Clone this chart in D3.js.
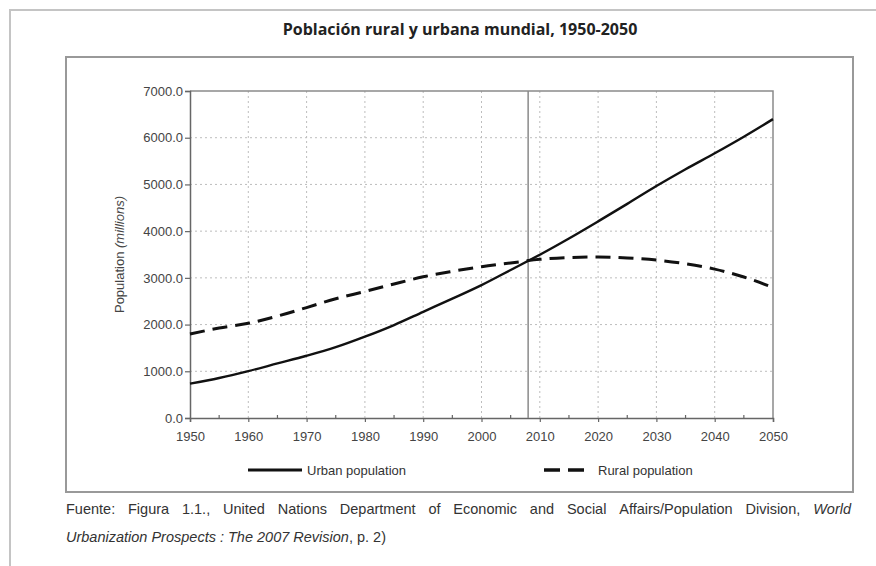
<!DOCTYPE html>
<html>
<head>
<meta charset="utf-8">
<script src="https://cdn.jsdelivr.net/npm/d3@7"></script>
<style>
  body { margin: 0; background: #fff; }
  svg { display: block; }
</style>
</head>
<body>
<div id="chart"></div>
<script>
// values (millions)
const years = [1950, 1955, 1960, 1965, 1970, 1975, 1980, 1985, 1990, 1995, 2000,
               2005, 2010, 2015, 2020, 2025, 2030, 2035, 2040, 2045, 2050];
const urban = [737, 857, 1004, 1168, 1332, 1516, 1741, 1990, 2273, 2555, 2845,
               3169, 3495, 3843, 4209, 4584, 4965, 5325, 5667, 6022, 6398];
const rural = [1798, 1926, 2027, 2181, 2364, 2552, 2708, 2869, 3022, 3139, 3240,
               3319, 3396, 3434, 3446, 3427, 3381, 3302, 3187, 3018, 2795];
const xTicks = [1950, 1960, 1970, 1980, 1990, 2000, 2010, 2020, 2030, 2040, 2050];
const yTicks = [0, 1000, 2000, 3000, 4000, 5000, 6000, 7000];
const crossYear = 2008;

const title = 'Población rural y urbana mundial, 1950-2050';
const legendLabels = ['Urban population', 'Rural population'];
const noteWords = ['Fuente:', 'Figura', '1.1.,', 'United', 'Nations', 'Department', 'of',
                   'Economic', 'and', 'Social', 'Affairs/Population', 'Division,', 'World'];

const W = 876, H = 566;
const svg = d3.select('#chart').append('svg')
    .attr('width', W)
    .attr('height', H);

// outer page frame and chart box
svg.append('rect')
    .attr('x', 10).attr('y', 10)
    .attr('width', W + 20).attr('height', H + 20)
    .attr('fill', 'none').attr('stroke', '#c4c4c4').attr('stroke-width', 2);

svg.append('text')
    .attr('x', 460).attr('y', 35)
    .attr('text-anchor', 'middle')
    .style('font-family', '"Open Sans", sans-serif')
    .style('font-weight', 700)
    .style('font-size', '16px')
    .attr('fill', '#222')
    .text(title);

svg.append('rect')
    .attr('x', 66).attr('y', 57)
    .attr('width', 787).attr('height', 435)
    .attr('fill', 'none').attr('stroke', '#999').attr('stroke-width', 2);

const x = d3.scaleLinear().domain([1950, 2050]).range([190, 773]);
const y = d3.scaleLinear().domain([0, 7000]).range([418, 91]);

const font = 'Arial, "Liberation Sans", sans-serif';

// grid
const grid = svg.append('g')
    .attr('stroke', '#bdbdbd')
    .attr('stroke-width', 1)
    .attr('stroke-dasharray', '2,3');
grid.selectAll('.gy').data(yTicks.filter(d => d > 0 && d < 7000)).join('line')
    .attr('x1', x(1950)).attr('x2', x(2050))
    .attr('y1', d => y(d)).attr('y2', d => y(d));
grid.selectAll('.gx').data(xTicks.filter(d => d > 1950 && d < 2050)).join('line')
    .attr('x1', d => x(d)).attr('x2', d => x(d))
    .attr('y1', y(7000)).attr('y2', y(0));

// plot frame (top, right)
svg.append('path')
    .attr('d', `M${x(1950)},${y(7000)}H${x(2050)}V${y(0)}`)
    .attr('fill', 'none').attr('stroke', '#8a8a8a').attr('stroke-width', 1.5);

// axes
const yAxis = svg.append('g')
    .attr('transform', `translate(${x(1950)},0)`)
    .call(d3.axisLeft(y).tickValues(yTicks).tickFormat(d3.format('.1f')).tickSize(5).tickPadding(2));
const xAxis = svg.append('g')
    .attr('transform', `translate(0,${y(0)})`)
    .call(d3.axisBottom(x).tickValues(xTicks).tickFormat(d3.format('d')).tickSize(4).tickPadding(10));

[yAxis, xAxis].forEach(a => {
    a.select('.domain').attr('stroke', '#666').attr('stroke-width', 1.5);
    a.selectAll('.tick line').attr('stroke', '#666').attr('stroke-width', 1.2);
    a.selectAll('.tick text')
        .style('font-family', font)
        .style('font-size', '13px')
        .attr('fill', '#444');
});

// minor ticks every five years
svg.append('g').selectAll('line')
    .data(years.filter(d => d % 10 === 5)).join('line')
    .attr('x1', d => x(d)).attr('x2', d => x(d))
    .attr('y1', y(0) - 3).attr('y2', y(0))
    .attr('stroke', '#666').attr('stroke-width', 1.2);

// 2008 marker
svg.append('line')
    .attr('x1', x(crossYear)).attr('x2', x(crossYear))
    .attr('y1', y(7000)).attr('y2', y(0))
    .attr('stroke', '#8a8a8a').attr('stroke-width', 1.5);

svg.append('text')
    .attr('transform', `translate(124,${y(3500)}) rotate(-90)`)
    .attr('text-anchor', 'middle')
    .style('font-family', font)
    .style('font-size', '13px')
    .attr('fill', '#444')
    .call(t => {
        t.append('tspan').text('Population ');
        t.append('tspan').style('font-style', 'italic').text('(millions)');
    });

// series
const line = d3.line()
    .x((d, i) => x(years[i]))
    .y(d => y(d))
    .curve(d3.curveMonotoneX);

svg.append('path')
    .attr('d', line(urban))
    .attr('fill', 'none').attr('stroke', '#111').attr('stroke-width', 2.4);
svg.append('path')
    .attr('d', line(rural))
    .attr('fill', 'none').attr('stroke', '#111').attr('stroke-width', 3)
    .attr('stroke-dasharray', '15,8');

// legend
const leg = svg.append('g')
    .style('font-family', font)
    .style('font-size', '13px')
    .attr('fill', '#333');
leg.append('line')
    .attr('x1', 248).attr('x2', 302).attr('y1', 470).attr('y2', 470)
    .attr('stroke', '#111').attr('stroke-width', 3);
leg.append('text').attr('x', 307).attr('y', 474.5).text(legendLabels[0]);
leg.append('line')
    .attr('x1', 544).attr('x2', 592).attr('y1', 470).attr('y2', 470)
    .attr('stroke', '#111').attr('stroke-width', 3.5)
    .attr('stroke-dasharray', '16,8');
leg.append('text').attr('x', 598).attr('y', 474.5).text(legendLabels[1]);

// source note, first line justified word by word
const note = svg.append('g')
    .style('font-family', font)
    .style('font-size', '14.5px')
    .attr('fill', '#333');
const words = note.selectAll('text.w').data(noteWords).join('text')
    .attr('class', 'w')
    .attr('y', 514)
    .style('font-style', (d, i) => i === noteWords.length - 1 ? 'italic' : 'normal')
    .text(d => d);
const widths = words.nodes().map(n => n.getComputedTextLength());
const gap = (851 - 66 - d3.sum(widths)) / (noteWords.length - 1);
let cx = 66;
words.attr('x', (d, i) => { const p = cx; cx += widths[i] + gap; return p; });

const l2 = note.append('text').attr('x', 66).attr('y', 542);
l2.append('tspan').style('font-style', 'italic').text('Urbanization Prospects : The 2007 Revision');
l2.append('tspan').text(', p. 2)');
</script>
</body>
</html>
